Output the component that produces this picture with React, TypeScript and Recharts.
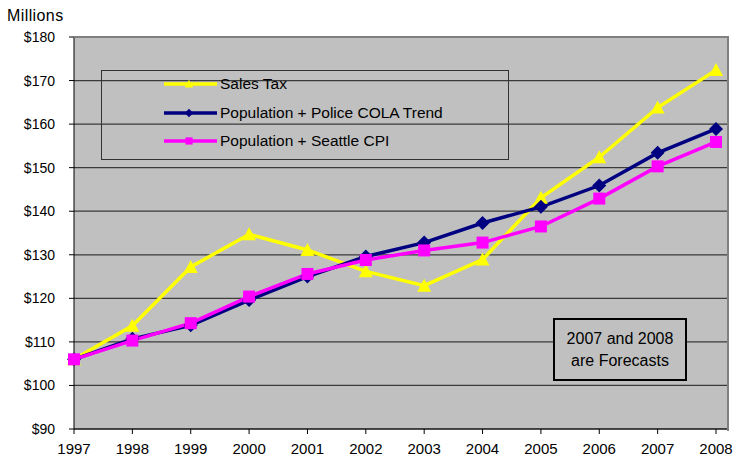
import React from 'react';
import { LineChart, Line, XAxis, YAxis, CartesianGrid } from 'recharts';

const years = ['1997', '1998', '1999', '2000', '2001', '2002', '2003', '2004', '2005', '2006', '2007', '2008'];
const salesTax = [106, 113.7, 127.2, 134.7, 131.1, 126.2, 122.9, 128.9, 143.1, 152.4, 163.8, 172.4];
const policeCola = [106, 110.7, 113.8, 119.6, 125, 129.6, 132.8, 137.3, 141, 145.9, 153.4, 158.9];
const seattleCpi = [106, 110.3, 114.3, 120.4, 125.6, 128.8, 131, 132.8, 136.5, 142.9, 150.3, 155.9];
const yTicks = [90, 100, 110, 120, 130, 140, 150, 160, 170, 180];

const data = years.map((year, i) => ({
  year,
  salesTax: salesTax[i],
  policeCola: policeCola[i],
  seattleCpi: seattleCpi[i],
}));

const FONT = '"Liberation Sans", Arial, sans-serif';

const series = [
  { key: 'salesTax', name: 'Sales Tax', color: '#FFFF00', shape: 'triangle' },
  { key: 'policeCola', name: 'Population + Police COLA Trend', color: '#000080', shape: 'diamond' },
  { key: 'seattleCpi', name: 'Population + Seattle CPI', color: '#FF00FF', shape: 'square' },
];

// marker shapes, drawn around the point the library hands us
const marker = (shape: string, color: string, cx: number, cy: number, s = 1) => {
  if (shape === 'triangle') {
    return <polygon points={`${cx},${cy - 7 * s} ${cx + 7 * s},${cy + 6 * s} ${cx - 7 * s},${cy + 6 * s}`} fill={color} />;
  }
  if (shape === 'diamond') {
    return <polygon points={`${cx},${cy - 7 * s} ${cx + 7 * s},${cy} ${cx},${cy + 7 * s} ${cx - 7 * s},${cy}`} fill={color} />;
  }
  return <rect x={cx - 6 * s} y={cy - 6 * s} width={12 * s} height={12 * s} fill={color} />;
};

const makeDot = (shape: string, color: string) => (props: any) => {
  const { cx, cy, index } = props;
  if (cx == null || cy == null) return <g key={index} />;
  return <g key={index}>{marker(shape, color, cx, cy)}</g>;
};

const LegendBox = () => (
  <div
    style={{
      position: 'absolute',
      left: 101,
      top: 70,
      width: 406,
      height: 88,
      border: '1px solid #333',
      fontSize: 15.5,
      color: '#000',
      pointerEvents: 'none',
    }}
  >
    {series.map((s, i) => (
      <div key={s.key} style={{ position: 'absolute', left: 62, top: 4 + i * 28.5, display: 'flex', alignItems: 'center', height: 18 }}>
        <svg width={54} height={16} style={{ marginRight: 2 }}>
          <line x1={0} y1={8} x2={53} y2={8} stroke={s.color} strokeWidth={3.5} />
          {marker(s.shape, s.color, 25, 8, 0.6)}
        </svg>
        <span style={{ whiteSpace: 'nowrap' }}>{s.name}</span>
      </div>
    ))}
  </div>
);

export default function App() {
  return (
    <div style={{ position: 'absolute', left: 0, top: 0, width: 734, height: 457, background: '#fff', fontFamily: FONT }}>
      <div style={{ position: 'absolute', left: 7, top: 7, fontSize: 16, letterSpacing: 0.4, color: '#000' }}>Millions</div>
      <LineChart width={734} height={457} data={data} margin={{ top: 37, right: 6, left: 0, bottom: 0 }}>
        <CartesianGrid vertical={false} fill="#C0C0C0" stroke="#3a3a3a" strokeWidth={1.2} />
        <XAxis
          dataKey="year"
          padding={{ left: 0, right: 12 }}
          height={28}
          stroke="#000"
          tickSize={5}
          tickMargin={9}
          tick={{ fill: '#000', fontSize: 15, fontFamily: FONT }}
          interval={0}
        />
        <YAxis
          domain={[90, 180]}
          ticks={yTicks}
          width={74}
          stroke="#000"
          tickSize={5}
          tickMargin={14}
          tickFormatter={(v) => `$${v}`}
          tick={{ fill: '#000', fontSize: 14, fontFamily: FONT }}
          allowDataOverflow
        />
        {series.map((s) => (
          <Line
            key={s.key}
            type="linear"
            dataKey={s.key}
            name={s.name}
            stroke={s.color}
            strokeWidth={3.5}
            dot={makeDot(s.shape, s.color)}
            activeDot={false}
            isAnimationActive={false}
          />
        ))}
      </LineChart>
      {/* plot frame, top and right edges */}
      <div
        style={{
          position: 'absolute',
          left: 74,
          top: 36,
          width: 653,
          height: 393,
          borderTop: '2px solid #808080',
          borderRight: '2px solid #808080',
          pointerEvents: 'none',
        }}
      />
      <LegendBox />
      <div
        style={{
          position: 'absolute',
          left: 553,
          top: 318,
          width: 130,
          height: 51,
          border: '2px solid #000',
          background: '#C0C0C0',
          fontSize: 16,
          color: '#000',
          textAlign: 'center',
          lineHeight: '22px',
          paddingTop: 8,
          whiteSpace: 'nowrap',
        }}
      >
        2007 and 2008
        <br />
        are Forecasts
      </div>
    </div>
  );
}
